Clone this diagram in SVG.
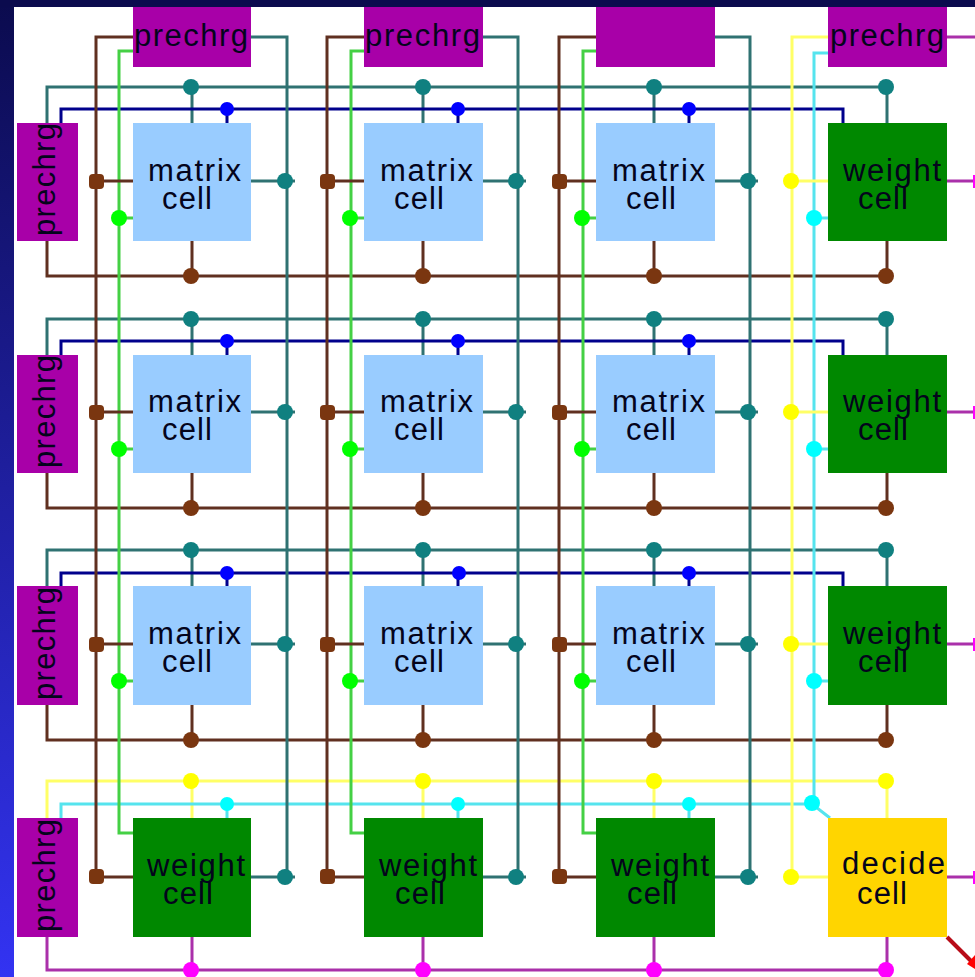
<svg xmlns="http://www.w3.org/2000/svg" width="975" height="977" viewBox="0 0 975 977">
<defs>
<linearGradient id="bg" x1="0" y1="0" x2="0" y2="1"><stop offset="0" stop-color="#0b0b4e"/><stop offset="1" stop-color="#3333f2"/></linearGradient>
</defs>
<style>
text{font-family:"Liberation Sans",Arial,sans-serif;font-size:31px;fill:#04041c}
.p{fill:#a800a8}.m{fill:#99ccff}.w{fill:#008800}.d{fill:#ffd500}
path{fill:none;stroke-width:3}
.lt{stroke:#2f7272}.lb{stroke:#603020}.lg{stroke:#44d044}.ln{stroke:#00008c}.ly{stroke:#ffff66}.lc{stroke:#55e4ee}.lm{stroke:#aa30aa}.lr{stroke:#b80c18;stroke-width:4}
.nt{fill:#108080}.nb{fill:#7a3610}.ng{fill:#00ff00}.nn{fill:#0000ff}.ny{fill:#ffff00}.nc{fill:#00ffff}.nm{fill:#ff00ff}.nr{fill:#ff0000}
</style>
<rect width="975" height="977" fill="url(#bg)"/>
<rect x="0" y="0" width="975" height="7" fill="#0b0b4e"/>
<rect x="14" y="7" width="961" height="970" fill="#ffffff"/>
<g id="connectors">
<path class="lt" d="M47 123V87H885M192 87V123M423 87V123M654 87V123M887 87V123"/>
<path class="ln" d="M61 123V109H843V123M227 109V123M458 109V123M689 109V123"/>
<path class="lb" d="M47 241V276H885M192 241V276M423 241V276M654 241V276M887 241V276"/>
<path class="lt" d="M47 355V319H885M192 319V355M423 319V355M654 319V355M887 319V355"/>
<path class="ln" d="M61 355V341H843V355M227 341V355M458 341V355M689 341V355"/>
<path class="lb" d="M47 473V508H885M192 473V508M423 473V508M654 473V508M887 473V508"/>
<path class="lt" d="M47 586V550H885M192 550V586M423 550V586M654 550V586M887 550V586"/>
<path class="ln" d="M61 586V573H843V586M227 573V586M458 573V586M689 573V586"/>
<path class="lb" d="M47 705V740H885M192 705V740M423 705V740M654 705V740M887 705V740"/>
<path class="ly" d="M47 818V781H885M192 781V818M423 781V818M654 781V818M887 781V818"/>
<path class="lc" d="M61 818V804H812L830 818M227 804V818M458 804V818M689 804V818"/>
<path class="lm" d="M47 937V970H885M192 937V970M423 937V970M654 937V970M887 937V970"/>
<path class="lb" d="M133 37H96V877M364 37H327V877M596 37H559V877"/>
<path class="lg" d="M133 51H119V833H133M364 51H351V833H364M596 51H583V833H596"/>
<path class="lt" d="M251 37H287V877M483 37H518V877M715 37H750V877"/>
<path class="ly" d="M828 37H792V877"/>
<path class="lc" d="M828 53H814V804"/>
<path class="lm" d="M947 37H975M947 181H975M947 412H975M947 644H975M947 877H975"/>
<path class="lr" d="M947 937L972 962"/>
<path class="lb" d="M96 181H133M327 181H364M559 181H596M96 412H133M327 412H364M559 412H596M96 644H133M327 644H364M559 644H596M96 877H133M327 877H364M559 877H596"/>
<path class="lt" d="M251 181H295M483 181H526M715 181H758M251 412H295M483 412H526M715 412H758M251 644H295M483 644H526M715 644H758M251 877H295M483 877H526M715 877H758"/>
<path class="lg" d="M119 218H133M351 218H364M583 218H596M119 449H133M351 449H364M583 449H596M119 681H133M351 681H364M583 681H596"/>
<path class="ly" d="M792 181H828M792 412H828M792 644H828M792 877H828"/>
<path class="lc" d="M814 218H828M814 449H828M814 681H828"/>
<g class="nt">
<circle cx="191" cy="87" r="8"/><circle cx="423" cy="87" r="8"/><circle cx="654" cy="87" r="8"/><circle cx="886" cy="87" r="8"/>
<circle cx="191" cy="319" r="8"/><circle cx="423" cy="319" r="8"/><circle cx="654" cy="319" r="8"/><circle cx="886" cy="319" r="8"/>
<circle cx="191" cy="550" r="8"/><circle cx="423" cy="550" r="8"/><circle cx="654" cy="550" r="8"/><circle cx="886" cy="550" r="8"/>
<circle cx="285" cy="181" r="8"/><circle cx="516" cy="181" r="8"/><circle cx="748" cy="181" r="8"/>
<circle cx="285" cy="412" r="8"/><circle cx="516" cy="412" r="8"/><circle cx="748" cy="412" r="8"/>
<circle cx="285" cy="644" r="8"/><circle cx="516" cy="644" r="8"/><circle cx="748" cy="644" r="8"/>
<circle cx="285" cy="877" r="8"/><circle cx="516" cy="877" r="8"/><circle cx="748" cy="877" r="8"/>
</g>
<g class="nb">
<circle cx="191" cy="276" r="8"/><circle cx="423" cy="276" r="8"/><circle cx="654" cy="276" r="8"/><circle cx="886" cy="276" r="8"/>
<circle cx="191" cy="508" r="8"/><circle cx="423" cy="508" r="8"/><circle cx="654" cy="508" r="8"/><circle cx="886" cy="508" r="8"/>
<circle cx="191" cy="740" r="8"/><circle cx="423" cy="740" r="8"/><circle cx="654" cy="740" r="8"/><circle cx="886" cy="740" r="8"/>
<rect x="89" y="174" width="15" height="15" rx="4"/><rect x="320" y="174" width="15" height="15" rx="4"/><rect x="552" y="174" width="15" height="15" rx="4"/>
<rect x="89" y="405" width="15" height="15" rx="4"/><rect x="320" y="405" width="15" height="15" rx="4"/><rect x="552" y="405" width="15" height="15" rx="4"/>
<rect x="89" y="637" width="15" height="15" rx="4"/><rect x="320" y="637" width="15" height="15" rx="4"/><rect x="552" y="637" width="15" height="15" rx="4"/>
<rect x="89" y="869" width="15" height="15" rx="4"/><rect x="320" y="869" width="15" height="15" rx="4"/><rect x="552" y="869" width="15" height="15" rx="4"/>
</g>
<g class="ng">
<circle cx="119" cy="218" r="8"/><circle cx="350" cy="218" r="8"/><circle cx="582" cy="218" r="8"/>
<circle cx="119" cy="449" r="8"/><circle cx="350" cy="449" r="8"/><circle cx="582" cy="449" r="8"/>
<circle cx="119" cy="681" r="8"/><circle cx="350" cy="681" r="8"/><circle cx="582" cy="681" r="8"/>
</g>
<g class="nn">
<circle cx="227" cy="109" r="7"/><circle cx="458" cy="109" r="7"/><circle cx="689" cy="109" r="7"/>
<circle cx="227" cy="341" r="7"/><circle cx="458" cy="341" r="7"/><circle cx="689" cy="341" r="7"/>
<circle cx="227" cy="573" r="7"/><circle cx="459" cy="573" r="7"/><circle cx="689" cy="573" r="7"/>
</g>
<g class="ny">
<circle cx="191" cy="781" r="8"/><circle cx="423" cy="781" r="8"/><circle cx="654" cy="781" r="8"/><circle cx="886" cy="781" r="8"/>
<circle cx="791" cy="181" r="8"/><circle cx="791" cy="412" r="8"/><circle cx="791" cy="644" r="8"/><circle cx="791" cy="877" r="8"/>
</g>
<g class="nc">
<circle cx="227" cy="804" r="7"/><circle cx="458" cy="804" r="7"/><circle cx="689" cy="804" r="7"/><circle cx="812" cy="803" r="8"/>
<circle cx="814" cy="218" r="8"/><circle cx="814" cy="449" r="8"/><circle cx="814" cy="681" r="8"/>
</g>
<g class="nm">
<circle cx="191" cy="970" r="8"/><circle cx="423" cy="970" r="8"/><circle cx="654" cy="970" r="8"/><circle cx="886" cy="970" r="8"/>
<rect x="973" y="175" width="2" height="13"/><rect x="973" y="406" width="2" height="13"/><rect x="973" y="638" width="2" height="13"/><rect x="973" y="871" width="2" height="13"/>
</g>
<path class="nr" d="M975 955L967 964L975 969Z" style="stroke:none"/>
</g>
<g id="prechrg-top-1"><rect class="p" x="133" y="7" width="118" height="60"/><text x="134" y="46" textLength="114" lengthAdjust="spacing">prechrg</text></g>
<g id="prechrg-top-2"><rect class="p" x="364" y="7" width="119" height="60"/><text x="365" y="46" textLength="115" lengthAdjust="spacing">prechrg</text></g>
<g id="prechrg-top-3"><rect class="p" x="596" y="7" width="119" height="60"/></g>
<g id="prechrg-top-4"><rect class="p" x="828" y="7" width="119" height="60"/><text x="830" y="46" textLength="114" lengthAdjust="spacing">prechrg</text></g>
<g id="prechrg-left-1"><rect class="p" x="17" y="123" width="61" height="118"/><text transform="translate(55 236) rotate(-90)" textLength="113" lengthAdjust="spacing">prechrg</text></g>
<g id="prechrg-left-2"><rect class="p" x="17" y="355" width="61" height="118"/><text transform="translate(55 468) rotate(-90)" textLength="113" lengthAdjust="spacing">prechrg</text></g>
<g id="prechrg-left-3"><rect class="p" x="17" y="586" width="61" height="119"/><text transform="translate(55 700) rotate(-90)" textLength="113" lengthAdjust="spacing">prechrg</text></g>
<g id="prechrg-left-4"><rect class="p" x="17" y="818" width="61" height="119"/><text transform="translate(55 932) rotate(-90)" textLength="113" lengthAdjust="spacing">prechrg</text></g>
<g id="matrix-1-1"><rect class="m" x="133" y="123" width="118" height="118"/><text x="148" y="181" textLength="93" lengthAdjust="spacing">matrix</text><text x="162" y="209" textLength="50" lengthAdjust="spacing">cell</text></g>
<g id="matrix-1-2"><rect class="m" x="364" y="123" width="119" height="118"/><text x="380" y="181" textLength="93" lengthAdjust="spacing">matrix</text><text x="394" y="209" textLength="50" lengthAdjust="spacing">cell</text></g>
<g id="matrix-1-3"><rect class="m" x="596" y="123" width="119" height="118"/><text x="612" y="181" textLength="93" lengthAdjust="spacing">matrix</text><text x="626" y="209" textLength="50" lengthAdjust="spacing">cell</text></g>
<g id="weight-1-4"><rect class="w" x="828" y="123" width="119" height="118"/><text x="843" y="181" textLength="98" lengthAdjust="spacing">weight</text><text x="858" y="209" textLength="50" lengthAdjust="spacing">cell</text></g>
<g id="matrix-2-1"><rect class="m" x="133" y="355" width="118" height="118"/><text x="148" y="412" textLength="93" lengthAdjust="spacing">matrix</text><text x="162" y="440" textLength="50" lengthAdjust="spacing">cell</text></g>
<g id="matrix-2-2"><rect class="m" x="364" y="355" width="119" height="118"/><text x="380" y="412" textLength="93" lengthAdjust="spacing">matrix</text><text x="394" y="440" textLength="50" lengthAdjust="spacing">cell</text></g>
<g id="matrix-2-3"><rect class="m" x="596" y="355" width="119" height="118"/><text x="612" y="412" textLength="93" lengthAdjust="spacing">matrix</text><text x="626" y="440" textLength="50" lengthAdjust="spacing">cell</text></g>
<g id="weight-2-4"><rect class="w" x="828" y="355" width="119" height="118"/><text x="843" y="412" textLength="98" lengthAdjust="spacing">weight</text><text x="858" y="440" textLength="50" lengthAdjust="spacing">cell</text></g>
<g id="matrix-3-1"><rect class="m" x="133" y="586" width="118" height="119"/><text x="148" y="644" textLength="93" lengthAdjust="spacing">matrix</text><text x="162" y="672" textLength="50" lengthAdjust="spacing">cell</text></g>
<g id="matrix-3-2"><rect class="m" x="364" y="586" width="119" height="119"/><text x="380" y="644" textLength="93" lengthAdjust="spacing">matrix</text><text x="394" y="672" textLength="50" lengthAdjust="spacing">cell</text></g>
<g id="matrix-3-3"><rect class="m" x="596" y="586" width="119" height="119"/><text x="612" y="644" textLength="93" lengthAdjust="spacing">matrix</text><text x="626" y="672" textLength="50" lengthAdjust="spacing">cell</text></g>
<g id="weight-3-4"><rect class="w" x="828" y="586" width="119" height="119"/><text x="843" y="644" textLength="98" lengthAdjust="spacing">weight</text><text x="858" y="672" textLength="50" lengthAdjust="spacing">cell</text></g>
<g id="weight-4-1"><rect class="w" x="133" y="818" width="118" height="119"/><text x="147" y="876" textLength="98" lengthAdjust="spacing">weight</text><text x="163" y="904" textLength="50" lengthAdjust="spacing">cell</text></g>
<g id="weight-4-2"><rect class="w" x="364" y="818" width="119" height="119"/><text x="379" y="876" textLength="98" lengthAdjust="spacing">weight</text><text x="395" y="904" textLength="50" lengthAdjust="spacing">cell</text></g>
<g id="weight-4-3"><rect class="w" x="596" y="818" width="119" height="119"/><text x="611" y="876" textLength="98" lengthAdjust="spacing">weight</text><text x="627" y="904" textLength="50" lengthAdjust="spacing">cell</text></g>
<g id="decide-cell"><rect class="d" x="828" y="818" width="119" height="119"/><text x="842" y="874" textLength="103" lengthAdjust="spacing">decide</text><text x="857" y="904" textLength="50" lengthAdjust="spacing">cell</text></g>
</svg>
